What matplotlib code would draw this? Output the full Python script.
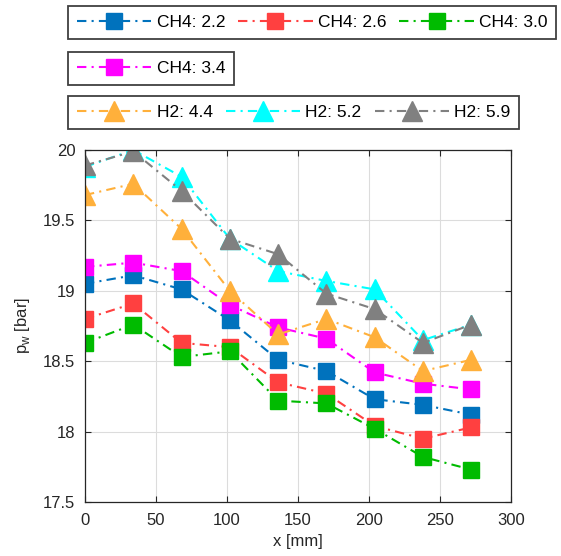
"""Wall pressure along x for CH4 and H2 cases, MATLAB-style dash-dot plot."""
import matplotlib

matplotlib.use("Agg")
import matplotlib.pyplot as plt  # noqa: E402

plt.rcParams["font.family"] = ["Liberation Sans", "DejaVu Sans"]

X_MM = [0, 34, 68, 102, 136, 170, 204, 238, 272]

CH4_22 = [19.05, 19.11, 19.01, 18.79, 18.51, 18.43, 18.23, 18.19, 18.12]
CH4_26 = [18.80, 18.91, 18.63, 18.60, 18.35, 18.27, 18.04, 17.95, 18.03]
CH4_30 = [18.63, 18.76, 18.53, 18.57, 18.22, 18.20, 18.02, 17.82, 17.73]
CH4_34 = [19.17, 19.20, 19.14, 18.90, 18.74, 18.66, 18.42, 18.34, 18.30]
H2_44 = [19.68, 19.76, 19.44, 19.00, 18.69, 18.80, 18.67, 18.43, 18.51]
H2_52 = [19.88, 20.00, 19.81, 19.37, 19.14, 19.07, 19.01, 18.65, 18.76]
H2_59 = [19.89, 19.99, 19.71, 19.37, 19.26, 18.98, 18.87, 18.63, 18.76]

LABELS = ["CH4: 2.2", "CH4: 2.6", "CH4: 3.0", "CH4: 3.4",
          "H2: 4.4", "H2: 5.2", "H2: 5.9"]
SERIES = [CH4_22, CH4_26, CH4_30, CH4_34, H2_44, H2_52, H2_59]
COLORS = ["#0072bd", "#ff4040", "#00bb00", "#ff00ff",
          "#ffb03b", "#00ffff", "#808080"]
MARKERS = ["s", "s", "s", "s", "^", "^", "^"]
DASHDOT = (0, (4.5, 2.5, 1, 2.5))  # MATLAB-ish '-.' pattern, in linewidths
TXT = "#262626"


def main() -> None:
    fig = plt.figure(figsize=(5.61, 5.56), dpi=100)
    ax = fig.add_axes([85 / 561, 1 - 502 / 556, 426 / 561, 352 / 556])

    handles = []
    for vals, color, marker, label in zip(SERIES, COLORS, MARKERS, LABELS):
        ms = 11.5 if marker == "s" else 14
        (h,) = ax.plot(X_MM, vals, linestyle=DASHDOT, lw=1.5, color=color,
                       marker=marker, ms=ms, mfc=color, mec=color, label=label)
        handles.append(h)

    ax.set_xlim(0, 300)
    ax.set_ylim(17.5, 20)
    ax.set_xticks(range(0, 301, 50))
    ax.set_yticks([17.5, 18, 18.5, 19, 19.5, 20])
    ax.set_yticklabels(["17.5", "18", "18.5", "19", "19.5", "20"])
    ax.grid(True, color="#dcdcdc", lw=0.8)
    ax.set_axisbelow(True)
    ax.tick_params(direction="in", top=True, right=True, length=4,
                   labelsize=12, colors=TXT, width=0.8)
    ax.tick_params(axis="x", pad=8)
    ax.tick_params(axis="y", pad=7)
    for sp in ax.spines.values():
        sp.set_color(TXT)
        sp.set_linewidth(0.9)
    ax.set_xlabel("x [mm]", fontsize=12, color=TXT, labelpad=4)
    ax.set_ylabel(r"p$_\mathregular{w}$ [bar]", fontsize=12,
                  color=TXT, labelpad=8)

    common = dict(loc="upper left", borderaxespad=0, fancybox=False,
                  fontsize=12.5, handlelength=4.3, columnspacing=0.75,
                  handletextpad=0.3, borderpad=0.5, framealpha=1)
    groups = [(handles[0:3], 3, 6), (handles[3:4], 1, 52), (handles[4:7], 3, 96)]
    for hs, ncol, ytop in groups:
        leg = fig.legend(handles=hs, ncol=ncol,
                         bbox_to_anchor=(68 / 561, 1 - ytop / 556), **common)
        leg.get_frame().set_edgecolor("#404040")
        leg.get_frame().set_linewidth(1.3)

    fig.savefig("out.png", dpi=100)


if __name__ == "__main__":
    main()
